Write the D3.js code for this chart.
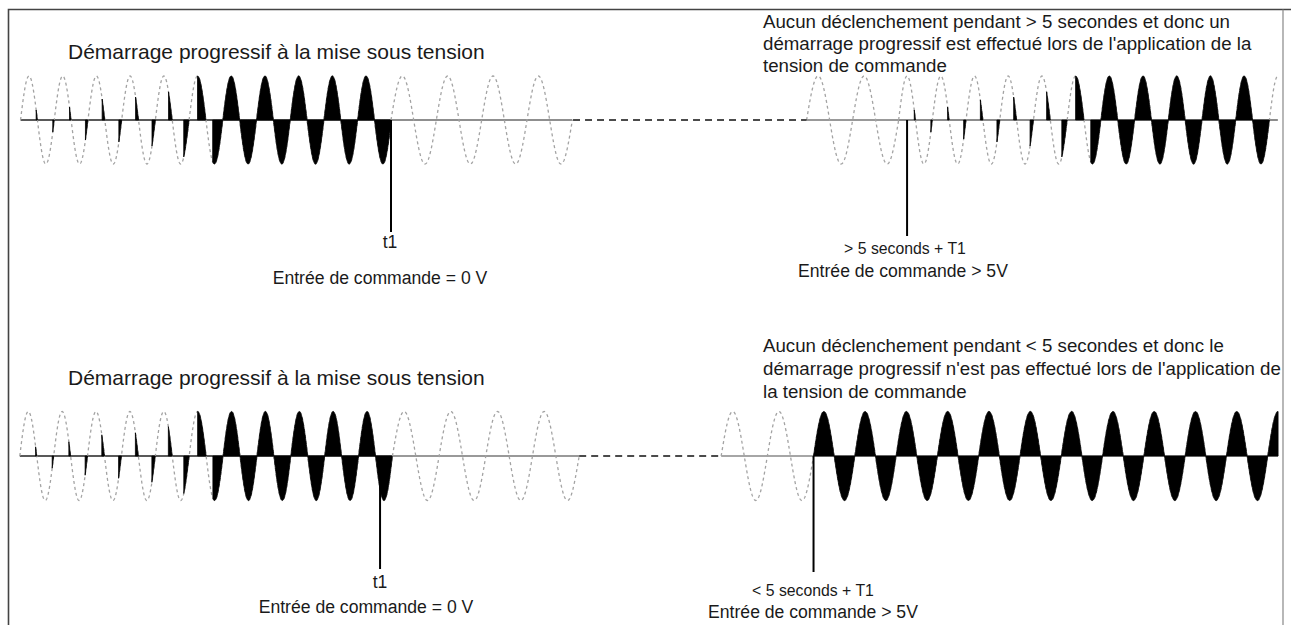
<!DOCTYPE html>
<html><head><meta charset="utf-8">
<script src="https://cdn.jsdelivr.net/npm/d3@7"></script>
<style>
html,body{margin:0;padding:0;background:#fff;}
svg{display:block;}
text{font-family:"Liberation Sans", Arial, sans-serif; fill:#1a1a1a;}
</style></head>
<body><svg id="chart" width="1291" height="625"></svg>
<script>
// ---------- DATA (time in ms, wave values normalised to ±1) ----------
const topSegmentNames   = ["tl", "t2", "t3", "t4"];
const topStartsMs       = [12.2, 232.0, 478.6, 533.2];
const topPeriodsMs      = [20, 26.9, 27.3, 20];
const topCycles         = [11, 4, 2, 11.25];
const bottomSegmentNames = ["bl", "b2", "b3", "b4"];
const bottomStartsMs     = [11.75, 232.85, 427.9, 482.7];
const bottomPeriodsMs    = [20.1, 27.7, 27.4, 24.5];
const bottomCycles       = [11, 4, 2, 11.25];

// conduction fraction of each half-cycle (phase angle control)
const topLeftConduction     = [0.073,0.088,0.095,0.150,0.158,0.167,0.175,0.201,0.220,0.318,0.5,0.6,1,1,1,1,1,1,1,1,1,1];
const topRightConduction    = [0.073,0.088,0.095,0.142,0.150,0.167,0.175,0.201,0.220,0.318,0.5,0.6,1,1,1,1,1,1,1,1,1,1,0];
const bottomLeftConduction  = [0.066,0.088,0.103,0.142,0.158,0.167,0.175,0.201,0.229,0.318,0.5,0.6,1,1,1,1,1,1,1,1,1,1];
const bottomRightConduction = [1,1,1,1,1,1,1,1,1,1,1,1,1,1,1,1,1,1,1,1,1,1,1];

const topGapMs    = [340.0, 478.6];
const bottomGapMs = [343.65, 427.9];

const topMarkersMs    = [232.0, 538.2];
const bottomMarkersMs = [225.5, 482.7];

const titleText = "Démarrage progressif à la mise sous tension";
const topNoteLines = [
  "Aucun déclenchement pendant > 5 secondes et donc un",
  "démarrage progressif est effectué lors de l'application de la",
  "tension de commande"
];
const bottomNoteLines = [
  "Aucun déclenchement pendant < 5 secondes et donc le",
  "démarrage progressif n'est pas effectué lors de l'application de",
  "la tension de commande"
];
const topLeftLabels     = ["t1", "Entrée de commande = 0 V"];
const topRightLabels    = ["> 5 seconds + T1", "Entrée de commande > 5V"];
const bottomLeftLabels  = ["t1", "Entrée de commande = 0 V"];
const bottomRightLabels = ["< 5 seconds + T1", "Entrée de commande > 5V"];

// ---------- DRAWING ----------
const svg = d3.select("#chart");
const W = 1291, H = 625;
const x = d3.scaleLinear().domain([0, 766]).range([0, W]);

const baselineStyle = {
  tl: {c:"#222", w:1.3}, t2: {c:"#6a6a6a", w:1.6}, t3: {c:"#777", w:1.5}, t4: {c:"#666", w:1.4},
  bl: {c:"#222", w:1.3}, b2: {c:"#777", w:1.6}, b3: {c:"#888", w:1.6}, b4: {c:"#333", w:1.2}
};

svg.append("path").attr("d", `M8.5,${H} V9.5 H${W}`).attr("fill","none").attr("stroke","#444").attr("stroke-width",1.6);
svg.append("line").attr("x1",1283).attr("x2",1283).attr("y1",9.5).attr("y2",H).attr("stroke","#888").attr("stroke-width",1.2);

function drawRow(cfg) {
  const y = d3.scaleLinear().domain([-1, 1]).range([cfg.baseY + cfg.amp, cfg.baseY - cfg.amp]);
  const g = svg.append("g");
  const line = d3.line().x(d => x(d[0])).y(d => y(d[1]));
  const area = d3.area().x(d => x(d[0])).y0(y(0)).y1(d => y(d[1]));

  cfg.names.forEach((name, i) => {
    const s = cfg.starts[i], p = cfg.periods[i], n = cfg.cycles[i];
    const e = s + n * p;
    const wave = t => Math.sin(2 * Math.PI * (t - s) / p);
    const sample = (a, b) => {
      const steps = Math.max(2, Math.ceil((b - a) / p * 120));
      return d3.range(steps + 1).map(k => { const t = a + (b - a) * k / steps; return [t, wave(t)]; });
    };
    const bs = baselineStyle[name];
    g.append("line").attr("x1", x(s)).attr("x2", x(e)).attr("y1", y(0)).attr("y2", y(0))
      .attr("stroke", bs.c).attr("stroke-width", bs.w);
    g.append("path").attr("d", line(sample(s, e))).attr("fill", "none")
      .attr("stroke", "#a3a3a3").attr("stroke-width", 1.3).attr("stroke-dasharray", "3,3");
    const cond = cfg.conduction[i] || [];
    cond.forEach((c, k) => {
      if (c <= 0) return;
      const hs = s + k * p / 2;
      const he = Math.min(hs + p / 2, e);
      const tf = hs + (1 - c) * p / 2;
      if (tf >= he) return;
      g.append("path").attr("d", area(sample(tf, he))).attr("fill", "#000")
        .attr("stroke", "#000").attr("stroke-width", 0.8).attr("stroke-linejoin", "round");
    });
  });

  g.append("line").attr("x1", x(cfg.gap[0])).attr("x2", x(cfg.gap[1]))
    .attr("y1", y(0)).attr("y2", y(0)).attr("stroke", "#111").attr("stroke-width", 1.5)
    .attr("stroke-dasharray", "7,5");

  cfg.markers.forEach((m, i) => {
    g.append("line").attr("x1", x(m)).attr("x2", x(m)).attr("y1", y(0)).attr("y2", cfg.markerEnds[i])
      .attr("stroke", "#000").attr("stroke-width", 2);
  });
}

drawRow({
  names: topSegmentNames, starts: topStartsMs, periods: topPeriodsMs, cycles: topCycles,
  conduction: [topLeftConduction, [], [], topRightConduction],
  baseY: 120, amp: 44, gap: topGapMs, markers: topMarkersMs, markerEnds: [232, 236]
});
drawRow({
  names: bottomSegmentNames, starts: bottomStartsMs, periods: bottomPeriodsMs, cycles: bottomCycles,
  conduction: [bottomLeftConduction, [], [], bottomRightConduction],
  baseY: 456, amp: 44.5, gap: bottomGapMs, markers: bottomMarkersMs, markerEnds: [569, 572]
});

function txt(str, px, py, size, anchor) {
  svg.append("text").attr("x", px).attr("y", py).attr("font-size", size)
    .attr("text-anchor", anchor || "start").text(str);
}
const titleSize = 21, noteSize = 18.7, labelSize = 17.6, secondsSize = 15.8;
txt(titleText, 68, 59, titleSize);
txt(titleText, 68, 385, titleSize);
topNoteLines.forEach((l, i) => txt(l, 763, 28 + i * 22, noteSize));
bottomNoteLines.forEach((l, i) => txt(l, 763, 352 + i * 23, noteSize));
txt(topLeftLabels[0], 390, 248, labelSize, "middle");
txt(topLeftLabels[1], 380, 284, labelSize, "middle");
txt(topRightLabels[0], 905, 254, secondsSize, "middle");
txt(topRightLabels[1], 903, 277, labelSize, "middle");
txt(bottomLeftLabels[0], 380, 588, labelSize, "middle");
txt(bottomLeftLabels[1], 366, 613, labelSize, "middle");
txt(bottomRightLabels[0], 813, 596, secondsSize, "middle");
txt(bottomRightLabels[1], 813, 618, labelSize, "middle");
</script></body></html>
